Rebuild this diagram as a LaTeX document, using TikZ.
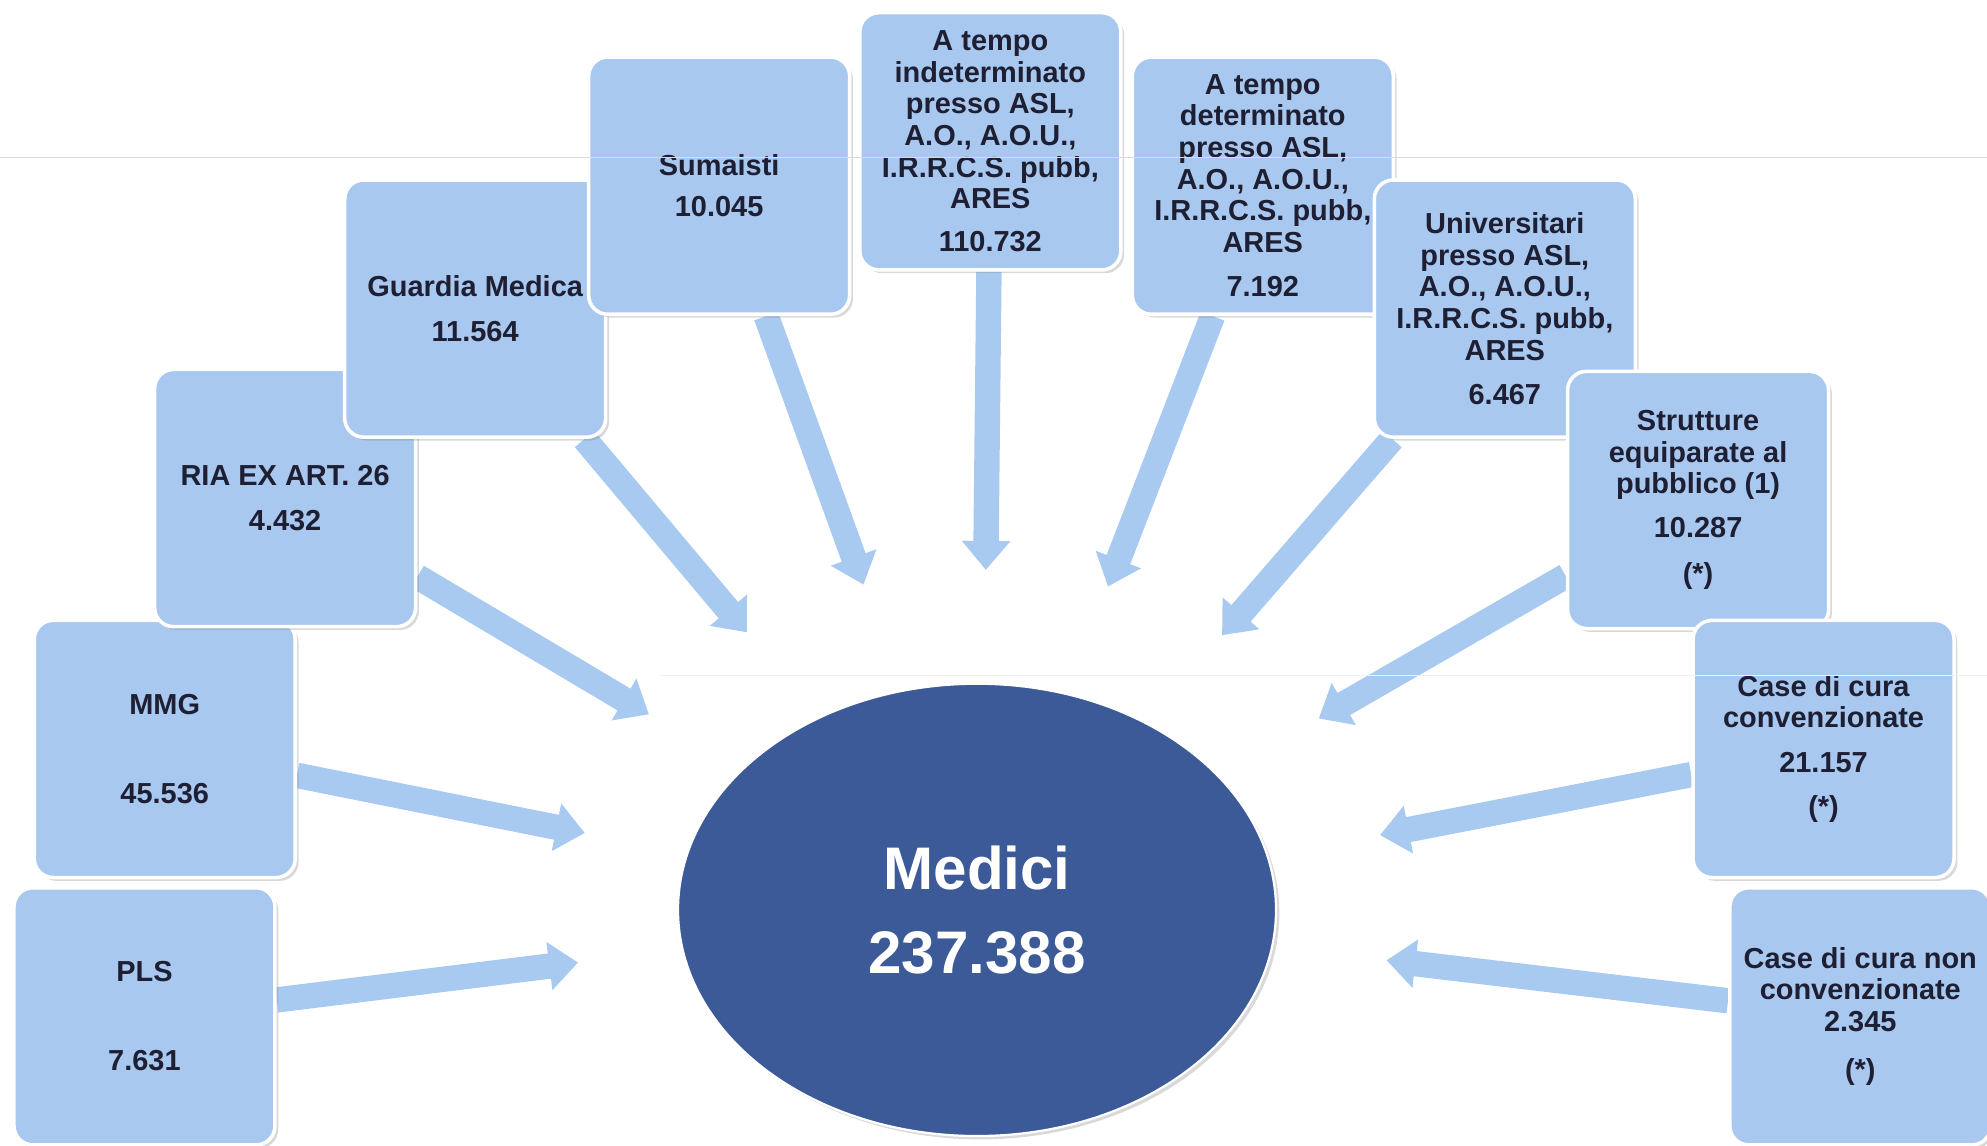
\documentclass[tikz,border=0pt]{standalone}
\usepackage{fontspec}
\setmainfont{Liberation Sans}
\usetikzlibrary{arrows.meta,shadows,shapes.geometric,backgrounds}
\definecolor{boxblue}{HTML}{A8C8EF}
\definecolor{arrblue}{HTML}{A9CAF0}
\definecolor{medblue}{HTML}{3C5A98}
\definecolor{txt}{HTML}{1F1F33}
\begin{document}
\begin{tikzpicture}[x=0.02cm,y=-0.02cm,
  box/.style={draw=white, line width=1.6pt, fill=boxblue, rounded corners=0.3cm,
    minimum width=4.12cm, minimum height=4.06cm, inner sep=0pt, align=center, text=txt,
    font=\fontsize{13}{14.2}\selectfont\bfseries,
    drop shadow={shadow xshift=1.5pt, shadow yshift=-1.5pt, opacity=0.3, fill=gray}},
  arr/.style={draw=arrblue, line width=11.4pt, -{Triangle[width=21pt,length=13pt]}},
  scanline/.style={draw=gray!28, line width=0.45pt}]
\useasboundingbox (0,0) rectangle (1568,904);

\node[ellipse, minimum width=12.88cm, minimum height=10.8cm, inner sep=0pt] (ring) at (775,720) {};

\node[ellipse, draw=white, line width=1pt, fill=medblue, minimum width=9.44cm, minimum height=7.14cm,
  text=white, align=center, font=\fontsize{27}{38}\selectfont\bfseries,
  drop shadow={shadow xshift=1.5pt, shadow yshift=-1.5pt, opacity=0.3, fill=gray}]
  (medici) at (771,718) {Medici\\237.388};

\node[box] (pls) at (114,802) {PLS\\[25.6pt]7.631};
\node[box] (mmg) at (130,591) {MMG\\[25.6pt]45.536};
\node[box] (ria) at (225,393) {RIA EX ART. 26\\[5.7pt]4.432};
\node[box] (guard) at (375,243.5) {Guardia Medica\\[5.7pt]11.564};
\node[box] (suma) at (567.5,146.5) {Sumaisti\\[4.6pt]10.045};
\node[box] (indet) at (781.5,111.5) {A tempo\\indeterminato\\presso ASL,\\A.O., A.O.U.,\\I.R.R.C.S. pubb,\\ARES\\[5.1pt]110.732};
\node[box] (det) at (996.5,146.5) {A tempo\\determinato\\presso ASL,\\A.O., A.O.U.,\\I.R.R.C.S. pubb,\\ARES\\[5.7pt]7.192};
\node[box] (univ) at (1187.5,243.5) {Universitari\\presso ASL,\\A.O., A.O.U.,\\I.R.R.C.S. pubb,\\ARES\\[5.7pt]6.467};
\node[box] (strut) at (1340,394.5) {Strutture\\equiparate al\\pubblico (1)\\[5.7pt]10.287\\[6.3pt](*)};
\node[box] (conv) at (1439,591) {Case di cura\\convenzionate\\[5.7pt]21.157\\[5.7pt](*)};
\node[box] (nonconv) at (1468,802) {Case di cura non\\convenzionate\\2.345\\[7.4pt](*)};

\begin{scope}[on background layer]
\foreach \b in {pls,mmg,ria,guard,suma,indet,det,univ,strut,conv,nonconv}
  \draw[arr] (\b) -- (ring);
\end{scope}

\draw[scanline] (0,124) -- (1568,124);
\draw[scanline, draw=gray!12] (522,533) -- (1568,533);
\end{tikzpicture}
\end{document}
